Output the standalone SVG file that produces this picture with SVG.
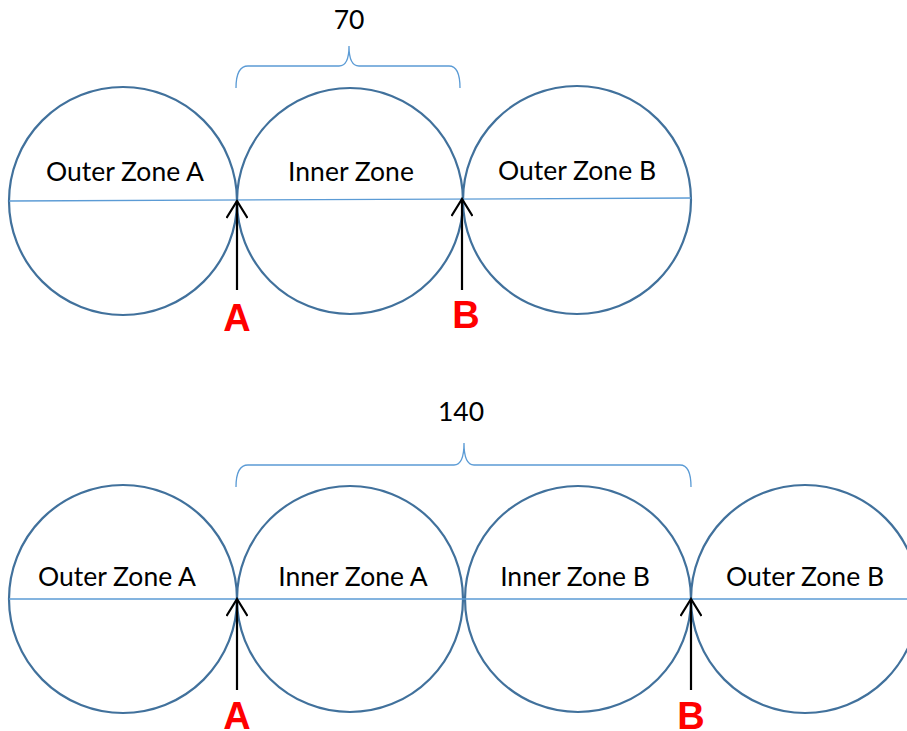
<svg xmlns="http://www.w3.org/2000/svg" width="907" height="731" viewBox="0 0 907 731">
<defs>
<style>
.c{fill:none;stroke:#41719C;stroke-width:2.2}
.d{fill:none;stroke:#5B9BD5;stroke-width:1.3}
.br{fill:none;stroke:#5B9BD5;stroke-width:1.3}
.ar{fill:none;stroke:#000;stroke-width:2.2}
.t{font-family:Lato,"Open Sans",sans-serif;font-size:26.5px;fill:#000;text-anchor:middle}
.n{font-family:Lato,"Open Sans",sans-serif;font-size:26.5px;fill:#000;text-anchor:middle}
.l{font-family:"Liberation Sans",Arial,sans-serif;font-size:38px;font-weight:bold;fill:#FF0000;text-anchor:middle}
</style>
<marker id="ah" viewBox="0 0 20 22" refX="18" refY="11" markerWidth="20" markerHeight="22" markerUnits="userSpaceOnUse" orient="auto">
<path d="M1,0.5 L18,11 L1,21.5" fill="none" stroke="#000" stroke-width="2.2"/>
</marker>
</defs>
<g id="top-row">
<g id="t-outerA"><circle class="c" cx="123" cy="201" r="114"/><text class="t" x="125" y="181">Outer Zone A</text></g>
<g id="t-inner"><circle class="c" cx="350" cy="201" r="113"/><text class="t" x="351" y="181">Inner Zone</text></g>
<g id="t-outerB"><circle class="c" cx="577" cy="200" r="114"/><text class="t" x="577" y="180">Outer Zone B</text></g>
<line class="d" x1="9" y1="201" x2="691" y2="198"/>
<path id="t-brace" class="br" d="M236,88 Q236,66 248,66 L339,66 Q349,66 349,46 Q349,66 359,66 L449,66 Q460,66 460,88"/>
<text id="t-70" class="n" x="349" y="29">70</text>
</g>
<g id="bottom-row">
<g id="b-outerA"><circle class="c" cx="123" cy="599" r="114"/><text class="t" x="117" y="586">Outer Zone A</text></g>
<g id="b-innerA"><circle class="c" cx="350" cy="599" r="113"/><text class="t" x="353" y="586">Inner Zone A</text></g>
<g id="b-innerB"><circle class="c" cx="578" cy="599" r="113"/><text class="t" x="575" y="586">Inner Zone B</text></g>
<g id="b-outerB"><circle class="c" cx="805" cy="599" r="114"/><text class="t" x="805" y="586">Outer Zone B</text></g>
<line class="d" x1="9" y1="599" x2="907" y2="599"/>
<path id="b-brace" class="br" d="M236,487 Q236,465 248,465 L454,465 Q464,465 464,443 Q464,465 474,465 L680,465 Q691,465 691,487"/>
<text id="b-140" class="n" x="461" y="421">140</text>
</g>
<g id="connectors">
<line class="ar" x1="237" y1="290" x2="237" y2="201" marker-end="url(#ah)"/>
<line class="ar" x1="462" y1="290" x2="462" y2="199" marker-end="url(#ah)"/>
<line class="ar" x1="237" y1="690" x2="237" y2="599" marker-end="url(#ah)"/>
<line class="ar" x1="691" y1="690" x2="691" y2="599" marker-end="url(#ah)"/>
</g>
<g id="labels">
<text class="l" x="237" y="331">A</text>
<text class="l" x="466" y="328">B</text>
<text class="l" x="237" y="729">A</text>
<text class="l" x="691" y="729">B</text>
</g>
</svg>
